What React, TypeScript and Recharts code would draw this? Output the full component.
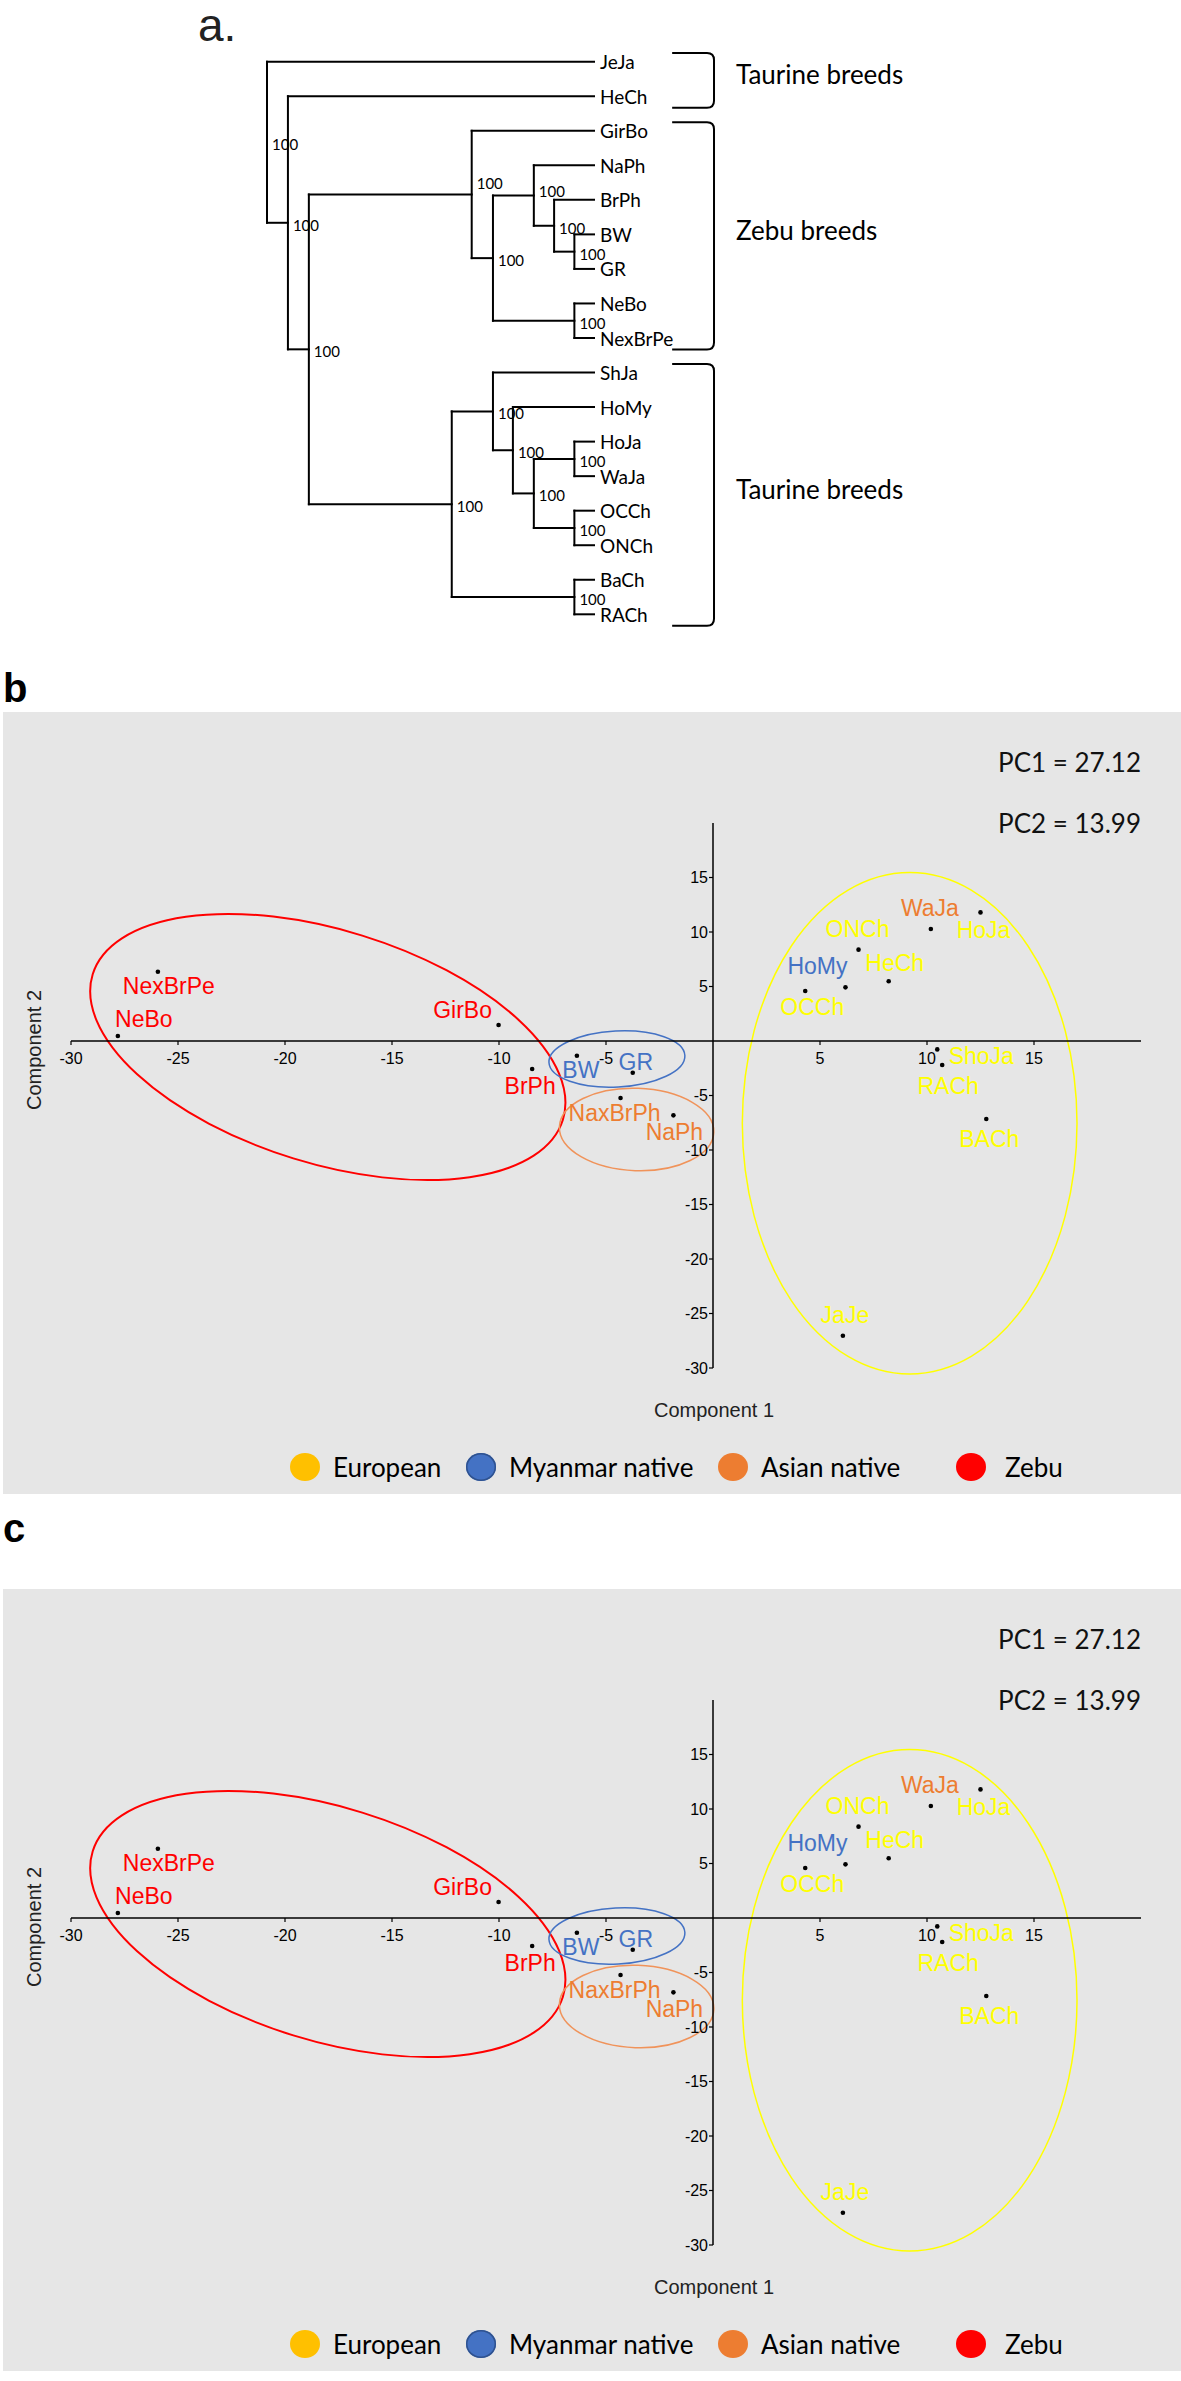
import React from 'react';
import {
  ScatterChart,
  Scatter,
  XAxis,
  YAxis,
  ReferenceLine,
  ReferenceArea,
  ReferenceDot,
  Legend,
} from 'recharts';

const ARIAL = "'Liberation Sans', Arial, sans-serif";
const CALIBRI = "Lato, 'Open Sans', sans-serif";

// ---------- a. tree ----------
const leafNames = ['JeJa', 'HeCh', 'GirBo', 'NaPh', 'BrPh', 'BW', 'GR', 'NeBo', 'NexBrPe', 'ShJa', 'HoMy', 'HoJa', 'WaJa', 'OCCh', 'ONCh', 'BaCh', 'RACh'];
const cladeIds = ['root', 'n2', 'n3', 'zebu', 'zebuSub', 'naph', 'brph', 'bwgr', 'nebo', 'taurine', 'shja', 'homy', 'hwoo', 'howa', 'ocon', 'bara'];
const cladeDepth = [0, 6.4, 12.8, 62.6, 69.1, 81.6, 87.8, 94, 94, 56.5, 69.1, 75.2, 81.6, 94, 94, 94];
const cladeChildren = [
  ['JeJa', 'n2'], ['HeCh', 'n3'], ['zebu', 'taurine'], ['GirBo', 'zebuSub'], ['naph', 'nebo'],
  ['NaPh', 'brph'], ['BrPh', 'bwgr'], ['BW', 'GR'], ['NeBo', 'NexBrPe'], ['shja', 'bara'],
  ['ShJa', 'homy'], ['HoMy', 'hwoo'], ['howa', 'ocon'], ['HoJa', 'WaJa'], ['OCCh', 'ONCh'], ['BaCh', 'RACh'],
];
const cladeSupport = [100, 100, 100, 100, 100, 100, 100, 100, 100, 100, 100, 100, 100, 100, 100, 100];
const leafDepth = 100;
const groupNames = ['Taurine breeds', 'Zebu breeds', 'Taurine breeds'];
const groupFirst = ['JeJa', 'GirBo', 'ShJa'];
const groupLast = ['HeCh', 'NexBrPe', 'RACh'];

// ---------- b./c. PCA ----------
const breeds = ['NexBrPe', 'NeBo', 'GirBo', 'BrPh', 'BW', 'GR', 'HoMy', 'NaxBrPh', 'NaPh', 'WaJa', 'ONCh', 'HeCh', 'OCCh', 'HoJa', 'ShoJa', 'RACh', 'BACh', 'JaJe'];
const pc1 = [-25.94, -27.81, -10.02, -8.45, -6.36, -3.75, 6.19, -4.32, -1.85, 10.18, 6.8, 8.21, 4.31, 12.5, 10.48, 10.71, 12.77, 6.07];
const pc2 = [6.36, 0.46, 1.47, -2.57, -1.35, -2.91, 4.92, -5.23, -6.82, 10.28, 8.38, 5.48, 4.59, 11.8, -0.77, -2.2, -7.16, -27.04];
const breedGroup = ['Zebu', 'Zebu', 'Zebu', 'Zebu', 'Myanmar native', 'Myanmar native', 'Myanmar native', 'Asian native', 'Asian native', 'Asian native', 'European', 'European', 'European', 'European', 'European', 'European', 'European', 'European'];
const groupOrder = ['European', 'Myanmar native', 'Asian native', 'Zebu'];
const xTicks = [-30, -25, -20, -15, -10, -5, 5, 10, 15];
const yTicks = [15, 10, 5, -5, -10, -15, -20, -25, -30];
const pcLabels = ['PC1 = 27.12', 'PC2 = 13.99'];

// group ellipses (centre, semi-axes in data units, tilt in degrees)
const ellipseGroup = ['Zebu', 'Myanmar native', 'Asian native', 'European'];
const ellipseCx = [-18.0, -4.49, -3.57, 9.19];
const ellipseCy = [-0.55, -1.65, -8.12, -7.55];
const ellipseRx = [11.5, 3.18, 3.61, 7.82];
const ellipseRy = [10.7, 2.57, 3.78, 23.0];
const ellipseTilt = [17.2, -3, 2, 0];

const labelColor: Record<string, string> = {
  European: '#FFFF00',
  'Myanmar native': '#4472C4',
  'Asian native': '#ED7D31',
  Zebu: '#FF0000',
};
const legendColor: Record<string, string> = {
  European: '#FFC000',
  'Myanmar native': '#4472C4',
  'Asian native': '#ED7D31',
  Zebu: '#FF0000',
};
const ellipseStroke: Record<string, string> = {
  European: '#FFFF00',
  'Myanmar native': '#4472C4',
  'Asian native': '#F0935A',
  Zebu: '#FF0000',
};
const legendX = [302, 478, 730, 968];

// where each breed name sits relative to its dot (px)
const labelOffset: Record<string, [number, number]> = {
  NexBrPe: [11, 14], NeBo: [26, -17], GirBo: [-36, -15], BrPh: [-2, 17], BW: [4, 14], GR: [3, -11],
  NaxBrPh: [-6, 15], NaPh: [1, 17], WaJa: [-1, -21], HoJa: [3, 18], ONCh: [-1, -21], HeCh: [6, -18],
  HoMy: [-28, -21], OCCh: [7, 16], ShoJa: [44, 7], RACh: [6, 21], BACh: [3, 20], JaJe: [2, -21],
};
const supportShift: Record<string, number> = { zebu: -13, naph: -7 };

// ---- tree layout ----
const pos: Record<string, { x: number; y: number }> = {};
leafNames.forEach((n, i) => { pos[n] = { x: leafDepth, y: i }; });
const place = (id: string): { x: number; y: number } => {
  if (pos[id]) return pos[id];
  const k = cladeIds.indexOf(id);
  const ch = cladeChildren[k].map(place);
  pos[id] = { x: cladeDepth[k], y: (ch[0].y + ch[ch.length - 1].y) / 2 };
  return pos[id];
};
place('root');

const branches: { x1: number; y1: number; x2: number; y2: number }[] = [];
cladeIds.forEach((id, k) => {
  const p = pos[id];
  const ch = cladeChildren[k].map((c) => pos[c]);
  branches.push({ x1: p.x, y1: ch[0].y, x2: p.x, y2: ch[ch.length - 1].y });
  ch.forEach((c) => branches.push({ x1: p.x, y1: c.y, x2: c.x, y2: c.y }));
});
const leafData = leafNames.map((n) => ({ name: n, x: pos[n].x, y: pos[n].y }));
const nodeData = cladeIds.map((id, k) => ({ id, support: cladeSupport[k], x: pos[id].x, y: pos[id].y }));

const Tree = () => (
  <div style={{ position: 'absolute', left: 0, top: 0 }}>
    <div style={{ position: 'absolute', left: 198, top: 2, font: `46px ${ARIAL}`, color: '#222', lineHeight: '46px' }}>a.</div>
    <ScatterChart width={1181} height={700} margin={{ top: 61.7, right: 587, bottom: 85.7, left: 267 }}>
      <XAxis type="number" dataKey="x" domain={[0, 100]} hide />
      <YAxis type="number" dataKey="y" domain={[0, 16]} reversed hide />
      {branches.map((b, i) => (
        <ReferenceLine
          key={i}
          segment={[{ x: b.x1, y: b.y1 }, { x: b.x2, y: b.y2 }]}
          stroke="#000"
          strokeWidth={2}
          strokeLinecap="square"
          ifOverflow="visible"
        />
      ))}
      {groupNames.map((g, i) => (
        <ReferenceArea
          key={i}
          x1={123.9}
          x2={136.7}
          y1={pos[groupFirst[i]].y - 0.25}
          y2={pos[groupLast[i]].y + 0.33}
          ifOverflow="visible"
          shape={(p: any) => {
            const x0 = p.x, x1 = p.x + p.width, y0 = p.y, y1 = p.y + p.height, r = 7;
            const d = `M${x0},${y0} L${x1 - r},${y0} Q${x1},${y0} ${x1},${y0 + r} L${x1},${y1 - r} Q${x1},${y1} ${x1 - r},${y1} L${x0},${y1}`;
            return (
              <g>
                <path d={d} fill="none" stroke="#000" strokeWidth={2} />
                <text x={x1 + 22} y={(y0 + y1) / 2 - 6} dominantBaseline="central" fontFamily={CALIBRI} fontSize={26} fill="#000">{g}</text>
              </g>
            );
          }}
        />
      ))}
      <Scatter
        data={leafData}
        isAnimationActive={false}
        shape={(p: any) => (
          <text x={p.cx + 6} y={p.cy} dominantBaseline="central" fontFamily={CALIBRI} fontSize={19} fill="#000">{p.payload.name}</text>
        )}
      />
      <Scatter
        data={nodeData}
        isAnimationActive={false}
        shape={(p: any) => (
          <text x={p.cx + 5} y={p.cy + 2 + (supportShift[p.payload.id] ?? 0)} dominantBaseline="central" fontFamily={CALIBRI} fontSize={15} fill="#000">{p.payload.support}</text>
        )}
      />
    </ScatterChart>
  </div>
);

const renderLegend = () => (
  <div style={{ position: 'relative', width: 1178, height: 40 }}>
    {groupOrder.map((g, i) => (
      <div key={g} style={{ position: 'absolute', left: legendX[i] - 15, top: 0, height: 40, display: 'flex', alignItems: 'center' }}>
        <span style={{ display: 'inline-block', width: 30, height: 28, borderRadius: '50%', background: legendColor[g], boxShadow: g === 'Myanmar native' ? 'inset 0 0 0 1.5px #2F528F' : 'none' }} />
        <span style={{ marginLeft: g === 'Zebu' ? 19 : 13, font: `26px ${CALIBRI}`, color: '#000', whiteSpace: 'nowrap' }}>{g}</span>
      </div>
    ))}
  </div>
);

const PcaPanel = ({ letter, top, letterTop }: { letter: string; top: number; letterTop: number }) => {
  const points = breeds.map((name, i) => ({ name, x: pc1[i], y: pc2[i], group: breedGroup[i] }));
  return (
    <>
      <div style={{ position: 'absolute', left: 3, top: letterTop, font: `bold 40px ${ARIAL}`, lineHeight: '40px', color: '#000' }}>{letter}</div>
      <div style={{ position: 'absolute', left: 3, top, width: 1178, height: 782, background: '#E6E6E6' }}>
        <ScatterChart width={1178} height={782} margin={{ top: 111, right: 40, bottom: 126, left: 68 }}>
          <XAxis type="number" dataKey="x" domain={[-30, 20]} hide />
          <YAxis type="number" dataKey="y" domain={[-30, 20]} hide />
          {ellipseGroup.map((g, i) => (
            <ReferenceArea
              key={g}
              x1={ellipseCx[i] - ellipseRx[i]}
              x2={ellipseCx[i] + ellipseRx[i]}
              y1={ellipseCy[i] - ellipseRy[i]}
              y2={ellipseCy[i] + ellipseRy[i]}
              ifOverflow="visible"
              shape={(p: any) => {
                const cx = p.x + p.width / 2;
                const cy = p.y + p.height / 2;
                return (
                  <ellipse cx={cx} cy={cy} rx={Math.abs(p.width) / 2} ry={Math.abs(p.height) / 2} fill="none"
                    stroke={ellipseStroke[g]} strokeWidth={g === 'Zebu' ? 2 : 1.5} transform={`rotate(${ellipseTilt[i]} ${cx} ${cy})`} />
                );
              }}
            />
          ))}
          <ReferenceLine segment={[{ x: -30, y: 0 }, { x: 20, y: 0 }]} stroke="#000" strokeWidth={1.5} />
          <ReferenceLine segment={[{ x: 0, y: -30 }, { x: 0, y: 20 }]} stroke="#000" strokeWidth={1.5} />
          {xTicks.map((t) => (
            <ReferenceDot key={`x${t}`} x={t} y={0} r={0}
              shape={(p: any) => (
                <g>
                  <line x1={p.cx} x2={p.cx} y1={p.cy} y2={p.cy + 4} stroke="#000" strokeWidth={1.2} />
                  <text x={p.cx} y={p.cy + 17} textAnchor="middle" dominantBaseline="central" fontFamily={ARIAL} fontSize={16} fill="#000">{t}</text>
                </g>
              )}
            />
          ))}
          {yTicks.map((t) => (
            <ReferenceDot key={`y${t}`} x={0} y={t} r={0}
              shape={(p: any) => (
                <g>
                  <line x1={p.cx - 4} x2={p.cx} y1={p.cy} y2={p.cy} stroke="#000" strokeWidth={1.2} />
                  <text x={p.cx - 5} y={p.cy} textAnchor="end" dominantBaseline="central" fontFamily={ARIAL} fontSize={16} fill="#000">{t}</text>
                </g>
              )}
            />
          ))}
          {groupOrder.map((g) => (
            <Scatter
              key={g}
              name={g}
              data={points.filter((d) => d.group === g)}
              isAnimationActive={false}
              shape={(p: any) => {
                const off = labelOffset[p.payload.name] ?? [0, -18];
                return (
                  <g>
                    <circle cx={p.cx} cy={p.cy} r={2.3} fill="#000" />
                    <text x={p.cx + off[0]} y={p.cy + off[1]} textAnchor="middle" dominantBaseline="central"
                      fontFamily={ARIAL} fontSize={23} fill={labelColor[g]}>{p.payload.name}</text>
                  </g>
                );
              }}
            />
          ))}
          <Legend layout="horizontal" verticalAlign="middle" align="center" content={renderLegend}
            wrapperStyle={{ position: 'absolute', left: 0, top: 735, width: 1178, height: 40 }} />
        </ScatterChart>
        {pcLabels.map((t, i) => (
          <div key={t} style={{ position: 'absolute', right: 40, top: i === 0 ? 35 : 96, font: `26px ${CALIBRI}`, lineHeight: '30px', color: '#111' }}>{t}</div>
        ))}
        <div style={{ position: 'absolute', left: 31, top: 338, transform: 'translate(-50%, -50%) rotate(-90deg)', font: `20px ${ARIAL}`, color: '#222', whiteSpace: 'nowrap' }}>Component 2</div>
        <div style={{ position: 'absolute', left: 711, top: 698, transform: 'translate(-50%, -50%)', font: `20px ${ARIAL}`, color: '#222', whiteSpace: 'nowrap' }}>Component 1</div>
      </div>
    </>
  );
};

export default function App() {
  return (
    <div style={{ position: 'absolute', left: 0, top: 0, width: 1181, height: 2381, background: '#fff' }}>
      <Tree />
      <PcaPanel letter="b" top={712} letterTop={668} />
      <PcaPanel letter="c" top={1589} letterTop={1508} />
    </div>
  );
}
